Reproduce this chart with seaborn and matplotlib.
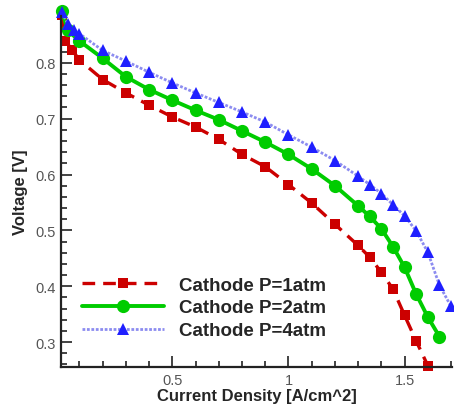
import numpy as np
import pandas as pd
import seaborn as sns
import matplotlib
matplotlib.use("Agg")
import matplotlib.pyplot as plt
from matplotlib.ticker import MultipleLocator, FixedLocator, FixedFormatter

# Polarization curves at three cathode pressures
x_1atm = [0.025, 0.04, 0.07, 0.1, 0.2, 0.3, 0.4, 0.5, 0.6, 0.7, 0.8, 0.9, 1.0, 1.1,
          1.2, 1.3, 1.35, 1.4, 1.45, 1.5, 1.55, 1.6]
v_1atm = [0.885, 0.839, 0.822, 0.805, 0.770, 0.746, 0.724, 0.703, 0.685, 0.663, 0.636,
          0.614, 0.582, 0.549, 0.511, 0.473, 0.452, 0.425, 0.395, 0.348, 0.302, 0.258]

x_2atm = [0.025, 0.05, 0.1, 0.2, 0.3, 0.4, 0.5, 0.6, 0.7, 0.8, 0.9, 1.0, 1.1, 1.2,
          1.3, 1.35, 1.4, 1.45, 1.5, 1.55, 1.6, 1.65]
v_2atm = [0.892, 0.858, 0.839, 0.808, 0.775, 0.752, 0.733, 0.715, 0.698, 0.678, 0.658,
          0.636, 0.610, 0.580, 0.544, 0.525, 0.503, 0.471, 0.434, 0.386, 0.345, 0.310]

x_4atm = [0.025, 0.05, 0.075, 0.1, 0.2, 0.3, 0.4, 0.5, 0.6, 0.7, 0.8, 0.9, 1.0, 1.1,
          1.2, 1.3, 1.35, 1.4, 1.45, 1.5, 1.55, 1.6, 1.65, 1.7]
v_4atm = [0.890, 0.870, 0.858, 0.852, 0.822, 0.803, 0.783, 0.764, 0.746, 0.729, 0.712,
          0.694, 0.671, 0.649, 0.625, 0.597, 0.582, 0.566, 0.546, 0.526, 0.499, 0.461,
          0.402, 0.364]

labels = ["Cathode P=1atm", "Cathode P=2atm", "Cathode P=4atm"]

x_ticks = [0.5, 1.0, 1.5]
x_tick_labels = ["0.5", "1", "1.5"]
y_ticks = [0.3, 0.4, 0.5, 0.6, 0.7, 0.8]
y_tick_labels = ["0.3", "0.4", "0.5", "0.6", "0.7", "0.8"]

sns.set_style("white")
plt.rcParams["font.family"] = ["Liberation Sans", "DejaVu Sans"]

fig = plt.figure(figsize=(4.54, 4.10), dpi=100)
ax = fig.add_axes([0.134, 0.102, 0.862, 0.857])

sns.lineplot(x=x_1atm, y=v_1atm, ax=ax, sort=False, estimator=None,
             color="#cc0000", linewidth=2.4, linestyle=(0, (3.8, 2.4)),
             marker="s", markersize=7, markeredgewidth=0, markerfacecolor="#cc0000",
             label=labels[0], clip_on=False)
sns.lineplot(x=x_2atm, y=v_2atm, ax=ax, sort=False, estimator=None,
             color="#00cc00", linewidth=2.8, marker="o", markersize=9.5,
             markeredgewidth=0, markerfacecolor="#00cc00",
             label=labels[1], clip_on=False)
sns.lineplot(x=x_4atm, y=v_4atm, ax=ax, sort=False, estimator=None,
             color="#8c8cf0", linewidth=2.0, linestyle=(0, (1, 0.6)),
             marker="^", markersize=8.5, markeredgewidth=0, markerfacecolor="#1f1fff",
             label=labels[2], clip_on=False)

ax.set_xlim(0.02, 1.705)
ax.set_ylim(0.2552, 0.884)

ax.xaxis.set_major_locator(FixedLocator(x_ticks))
ax.xaxis.set_major_formatter(FixedFormatter(x_tick_labels))
ax.yaxis.set_major_locator(FixedLocator(y_ticks))
ax.yaxis.set_major_formatter(FixedFormatter(y_tick_labels))
ax.xaxis.set_minor_locator(MultipleLocator(0.1))
ax.yaxis.set_minor_locator(MultipleLocator(0.02))

ax.tick_params(which="both", direction="in", color="#222222", width=1.2,
               labelsize=10.5, labelcolor="#555555", bottom=True, left=True)
ax.tick_params(which="major", length=8, pad=4)
ax.tick_params(which="minor", length=4.5)

for side in ["top", "right"]:
    ax.spines[side].set_visible(False)
for side in ["left", "bottom"]:
    ax.spines[side].set_color("#222222")
    ax.spines[side].set_linewidth(1.6)

ax.set_xlabel("Current Density [A/cm^2]", fontsize=12, fontweight="bold", labelpad=1)
ax.set_ylabel("Voltage [V]", fontsize=12, fontweight="bold", labelpad=5)

ax.legend(loc="lower left", bbox_to_anchor=(0.054, 0.08), frameon=False,
          borderpad=0, borderaxespad=0, handlelength=4.4, handletextpad=0.8,
          labelspacing=0.3, prop={"size": 13.5, "weight": "bold"})

fig.savefig("out.png", dpi=100)
